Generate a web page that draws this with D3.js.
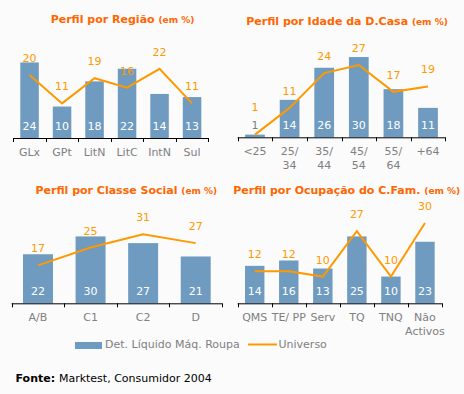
<!DOCTYPE html>
<html>
<head>
<meta charset="utf-8">
<script src="https://cdn.jsdelivr.net/npm/d3@7"></script>
<style>
  body { margin: 0; background: #fbfbfb; }
  text { font-family: "DejaVu Sans", Verdana, sans-serif; }
</style>
</head>
<body>
<div id="chart-area"></div>
<script>
// Data
var regiaoCats = ['GLx', 'GPt', 'LitN', 'LitC', 'IntN', 'Sul'];
var regiaoDet = [24, 10, 18, 22, 14, 13];
var regiaoUni = [20, 11, 19, 16, 22, 11];

var idadeCats = ['<25', '25/\n34', '35/\n44', '45/\n54', '55/\n64', '+64'];
var idadeDet = [1, 14, 26, 30, 18, 11];
var idadeUni = [1, 11, 24, 27, 17, 19];

var classeCats = ['A/B', 'C1', 'C2', 'D'];
var classeDet = [22, 30, 27, 21];
var classeUni = [17, 25, 31, 27];

var ocupCats = ['QMS', 'TE/ PP', 'Serv', 'TQ', 'TNQ', 'Não\nActivos'];
var ocupDet = [14, 16, 13, 25, 10, 23];
var ocupUni = [12, 12, 10, 27, 10, 30];

var titles = ['Perfil por Região', 'Perfil por Idade da D.Casa',
  'Perfil por Classe Social', 'Perfil por Ocupação do C.Fam.'];
var yMax = [34, 40, 48, 40];

var barColor = '#6f9bc0';
var lineColor = '#ff9900';
var titleColor = '#ff6600';

var svg = d3.select('#chart-area')
  .append('svg')
    .attr('width', 464)
    .attr('height', 394);

var panels = [
  { cats: regiaoCats, det: regiaoDet, uni: regiaoUni, x0: 13.3, x1: 208.3, base: 138, tx: 122.5, ty: 19.5 },
  { cats: idadeCats, det: idadeDet, uni: idadeUni, x0: 237.7, x1: 445.3, base: 137.3, tx: 347, ty: 21.5 },
  { cats: classeCats, det: classeDet, uni: classeUni, x0: 11.7, x1: 222, base: 303.3, tx: 126.3, ty: 190.5 },
  { cats: ocupCats, det: ocupDet, uni: ocupUni, x0: 237.7, x1: 442, base: 303.3, tx: 346.7, ty: 191 }
];

var plotH = 107;

panels.forEach(function(p, i) {
  var g = svg.append('g');

  var x = d3.scaleBand()
    .domain(p.cats)
    .range([p.x0, p.x1])
    .paddingInner(0.43)
    .paddingOuter(0.215);

  var y = d3.scaleLinear()
    .domain([0, yMax[i]])
    .range([p.base, p.base - plotH]);

  // title
  var title = g.append('text')
    .attr('x', p.tx)
    .attr('y', p.ty)
    .attr('text-anchor', 'middle')
    .attr('dominant-baseline', 'middle')
    .attr('fill', titleColor)
    .attr('font-weight', 'bold')
    .attr('font-size', '11px');
  title.append('tspan').text(titles[i] + ' ');
  title.append('tspan').attr('font-size', '9px').text('(em %)');

  // bars
  g.selectAll('rect.bar')
    .data(p.det)
    .enter().append('rect')
      .attr('class', 'bar')
      .attr('x', function(d, j) { return x(p.cats[j]); })
      .attr('width', x.bandwidth())
      .attr('y', function(d) { return y(d); })
      .attr('height', function(d) { return p.base - y(d); })
      .attr('fill', barColor);

  // bar labels
  g.selectAll('text.bar-label')
    .data(p.det)
    .enter().append('text')
      .attr('class', 'bar-label')
      .attr('x', function(d, j) { return x(p.cats[j]) + x.bandwidth() / 2; })
      .attr('y', p.base - 11)
      .attr('text-anchor', 'middle')
      .attr('dominant-baseline', 'middle')
      .attr('font-size', '11px')
      .attr('fill', function(d) { return (p.base - y(d)) < 14 ? '#808080' : '#ffffff'; })
      .text(function(d) { return d; });

  // universe line
  var line = d3.line()
    .x(function(d, j) { return x(p.cats[j]) + x.bandwidth() / 2; })
    .y(function(d) { return y(d); });

  g.append('path')
    .datum(p.uni)
    .attr('d', line)
    .attr('fill', 'none')
    .attr('stroke', lineColor)
    .attr('stroke-width', 2);

  g.selectAll('text.line-label')
    .data(p.uni)
    .enter().append('text')
      .attr('class', 'line-label')
      .attr('x', function(d, j) { return x(p.cats[j]) + x.bandwidth() / 2; })
      .attr('y', function(d) {
        var ly = y(d) - 16;
        return ly > p.base - 27 ? p.base - 29 : ly;
      })
      .attr('text-anchor', 'middle')
      .attr('dominant-baseline', 'middle')
      .attr('font-size', '11px')
      .attr('fill', lineColor)
      .text(function(d) { return d; });

  // x axis
  g.append('line')
    .attr('x1', p.x0).attr('x2', p.x1)
    .attr('y1', p.base + 0.5).attr('y2', p.base + 0.5)
    .attr('stroke', '#000');

  var step = x.step();
  d3.range(p.cats.length + 1).forEach(function(k) {
    var tx = Math.round(p.x0 + k * step) + 0.5;
    g.append('line')
      .attr('x1', tx).attr('x2', tx)
      .attr('y1', p.base).attr('y2', p.base + 4)
      .attr('stroke', '#000');
  });

  p.cats.forEach(function(c) {
    var t = g.append('text')
      .attr('x', x(c) + x.bandwidth() / 2)
      .attr('y', p.base + 15)
      .attr('text-anchor', 'middle')
      .attr('dominant-baseline', 'middle')
      .attr('font-size', '11px')
      .attr('fill', '#808080');
    c.split('\n').forEach(function(part, k) {
      t.append('tspan')
        .attr('x', x(c) + x.bandwidth() / 2)
        .attr('dy', k === 0 ? 0 : 14)
        .text(part);
    });
  });
});

// Legend
var legend = svg.append('g');
legend.append('rect')
  .attr('x', 75).attr('y', 342)
  .attr('width', 27).attr('height', 7)
  .attr('fill', barColor);
legend.append('text')
  .attr('x', 105).attr('y', 344.5)
  .attr('dominant-baseline', 'middle')
  .attr('font-size', '11px')
  .attr('fill', '#808080')
  .text('Det. Líquido Máq. Roupa');
legend.append('line')
  .attr('x1', 248).attr('x2', 277)
  .attr('y1', 344.5).attr('y2', 344.5)
  .attr('stroke', lineColor)
  .attr('stroke-width', 2);
legend.append('text')
  .attr('x', 278.5).attr('y', 344.5)
  .attr('dominant-baseline', 'middle')
  .attr('font-size', '11px')
  .attr('fill', '#808080')
  .text('Universo');

// Source
var fonte = svg.append('text')
  .attr('x', 15.5).attr('y', 378.5)
  .attr('dominant-baseline', 'middle')
  .attr('font-size', '11px')
  .attr('fill', '#000');
fonte.append('tspan').attr('font-weight', 'bold').text('Fonte: ');
fonte.append('tspan').text('Marktest, Consumidor 2004');
</script>
</body>
</html>
